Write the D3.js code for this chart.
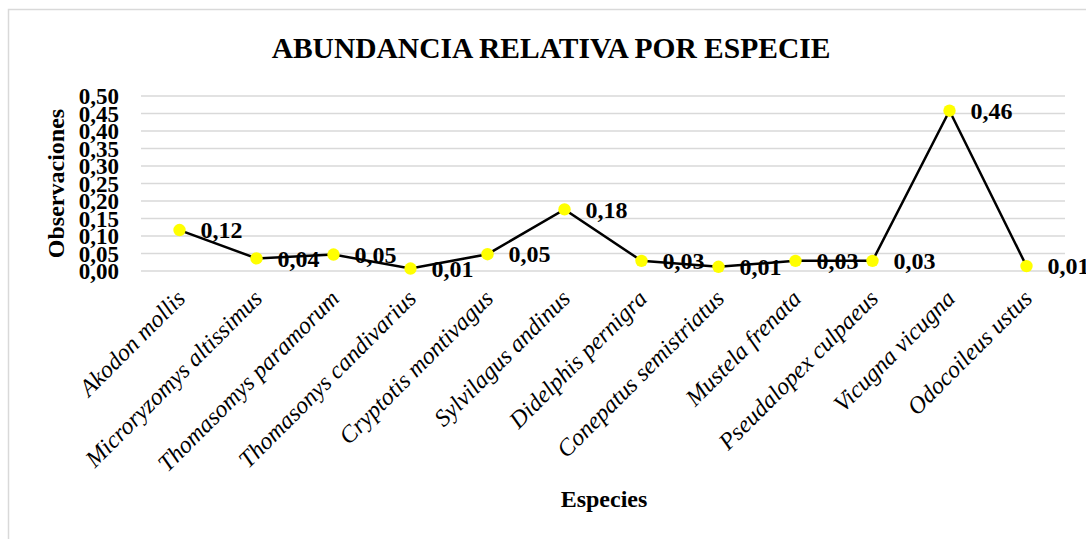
<!DOCTYPE html>
<html>
<head>
<meta charset="utf-8">
<script src="https://cdn.jsdelivr.net/npm/d3@7"></script>
<style>
  html, body { margin: 0; padding: 0; background: #fff; }
  svg { display: block; }
  text { font-family: "Liberation Serif", "Times New Roman", serif; fill: #000; }
</style>
</head>
<body>
<script>
// Species observed and their relative abundance
const species = [
  "Akodon mollis",
  "Microryzomys altissimus",
  "Thomasomys paramorum",
  "Thomasonys candivarius",
  "Cryptotis montivagus",
  "Sylvilagus andinus",
  "Didelphis pernigra",
  "Conepatus semistriatus",
  "Mustela frenata",
  "Pseudalopex culpaeus",
  "Vicugna vicugna",
  "Odocoileus ustus"
];
const abundance = [0.117, 0.036, 0.047, 0.007, 0.048, 0.176, 0.029, 0.012, 0.029, 0.029, 0.458, 0.014];
const yTicks = [0, 0.05, 0.10, 0.15, 0.20, 0.25, 0.30, 0.35, 0.40, 0.45, 0.50];

const W = 1086, H = 539;
const plot = { left: 141, right: 1065, top: 96, bottom: 271 };

const fmt = v => d3.format(".2f")(v).replace(".", ",");

const svg = d3.select("body").append("svg").attr("width", W).attr("height", H);

// chart frame
svg.append("rect")
  .attr("x", 8.5).attr("y", 9.5)
  .attr("width", W + 20).attr("height", H + 20)
  .attr("fill", "#fff").attr("stroke", "#d9d9d9").attr("stroke-width", 1.5);

const x = d3.scaleBand().domain(species).range([plot.left, plot.right]);
const y = d3.scaleLinear().domain([0, 0.5]).range([plot.bottom, plot.top]);

// horizontal gridlines
svg.append("g")
  .selectAll("line").data(yTicks).join("line")
  .attr("x1", plot.left).attr("x2", plot.right)
  .attr("y1", d => y(d)).attr("y2", d => y(d))
  .attr("stroke", "#d9d9d9").attr("stroke-width", 1.5);

// y axis labels
const yAxis = d3.axisLeft(y).tickValues(yTicks).tickFormat(fmt).tickSize(0).tickPadding(0);
const gy = svg.append("g").attr("transform", `translate(${plot.left - 22},0)`).call(yAxis);
gy.select(".domain").remove();
gy.selectAll("text")
  .attr("dy", "0.34em")
  .style("font-family", "'Liberation Serif', 'Times New Roman', serif")
  .style("font-size", "23px").style("font-weight", "bold").attr("fill", "#000");

// x axis labels (rotated, italic)
const xAxis = d3.axisBottom(x).tickSize(0).tickPadding(0);
const gx = svg.append("g").attr("transform", `translate(0,${plot.bottom})`).call(xAxis);
gx.select(".domain").remove();
gx.selectAll(".tick text")
  .attr("y", 0).attr("dy", 0)
  .attr("text-anchor", "end")
  .attr("transform", "translate(7,29) rotate(-45)")
  .style("font-family", "'Liberation Serif', 'Times New Roman', serif")
  .style("font-size", "24px").style("font-style", "italic").attr("fill", "#000");

// series line
const cx = d => x(d) + x.bandwidth() / 2;
const line = d3.line().x((d, i) => cx(species[i])).y(d => y(d));
svg.append("path").datum(abundance)
  .attr("d", line).attr("fill", "none")
  .attr("stroke", "#000").attr("stroke-width", 2.5);

// markers
svg.append("g").selectAll("circle").data(abundance).join("circle")
  .attr("cx", (d, i) => cx(species[i])).attr("cy", d => y(d))
  .attr("r", 6.2).attr("fill", "#ffff00");

// value labels
svg.append("g").selectAll("text").data(abundance).join("text")
  .attr("x", (d, i) => cx(species[i]) + 21).attr("y", d => y(d))
  .attr("dy", "0.34em")
  .style("font-size", "24px").style("font-weight", "bold")
  .text(fmt);

// titles
svg.append("text")
  .attr("x", 551).attr("y", 58).attr("text-anchor", "middle")
  .style("font-size", "29.5px").style("font-weight", "bold")
  .text("ABUNDANCIA RELATIVA POR ESPECIE");

svg.append("text")
  .attr("x", 604).attr("y", 507).attr("text-anchor", "middle")
  .style("font-size", "24px").style("font-weight", "bold")
  .text("Especies");

svg.append("text")
  .attr("transform", "translate(64,183.5) rotate(-90)").attr("text-anchor", "middle")
  .style("font-size", "24px").style("font-weight", "bold")
  .text("Observaciones");
</script>
</body>
</html>
